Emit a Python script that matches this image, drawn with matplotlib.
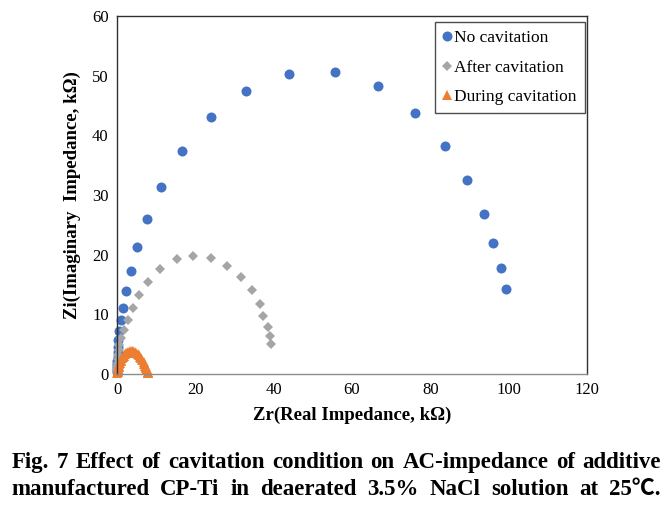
import numpy as np
import matplotlib
matplotlib.use("Agg")
import matplotlib.pyplot as plt

plt.rcParams['font.family'] = ['Liberation Serif', 'Noto Sans CJK KR', 'DejaVu Sans']

## data (kOhm)
no_cav_zr = [0.02, 0.03, 0.04, 0.06, 0.09, 0.13, 0.18, 0.25, 0.35, 0.5, 0.94, 1.45, 2.3, 3.5,
             5.2, 7.6, 11.2, 16.5, 23.9, 32.9, 43.8, 55.6, 66.6, 76.2, 83.8, 89.4, 93.6,
             96.1, 98.1, 99.2]
no_cav_zi = [0.4, 0.7, 1.1, 1.6, 2.2, 2.9, 3.7, 4.6, 5.7, 7.2, 9.0, 11.1, 13.9, 17.2,
             21.3, 26.0, 31.4, 37.4, 43.0, 47.5, 50.3, 50.6, 48.2, 43.8, 38.2, 32.5, 26.8,
             22.0, 17.8, 14.2]

after_zr = [0.05, 0.07, 0.1, 0.15, 0.2, 0.3, 0.4, 0.6, 1.1, 1.9, 2.9, 4.0, 5.7, 8.0, 11.1,
            15.2, 19.5, 23.9, 28.2, 31.6, 34.4, 36.4, 37.4, 38.5, 39.1, 39.3]
after_zi = [0.5, 0.9, 1.4, 1.9, 2.5, 3.2, 4.0, 4.9, 6.0, 7.3, 9.0, 11.0, 13.2, 15.4, 17.6,
            19.2, 19.8, 19.5, 18.1, 16.3, 14.0, 11.8, 9.8, 7.9, 6.4, 5.1]

during_zr = [0.1, 0.15, 0.2, 0.3, 0.4, 0.5, 0.6, 0.7, 0.9, 1.1, 1.3, 1.5, 1.7, 2.0, 2.3, 2.6,
             2.9, 3.3, 3.7, 4.1, 4.5, 4.9, 5.3, 5.6, 5.9, 6.2, 6.5, 6.8, 7.0, 7.2, 7.4,
             7.5, 7.6, 7.7, 7.8, 7.9, 7.9]
during_zi = [0.1, 0.3, 0.5, 0.8, 1.1, 1.4, 1.6, 1.8, 2.1, 2.4, 2.7, 2.9, 3.1, 3.3, 3.5, 3.6,
             3.7, 3.8, 3.8, 3.8, 3.7, 3.6, 3.4, 3.2, 2.9, 2.6, 2.3, 2.0, 1.7, 1.4, 1.2,
             1.0, 0.8, 0.6, 0.4, 0.2, 0.1]

caption1 = "Fig. 7 Effect of cavitation condition on AC-impedance of additive"
caption2 = "manufactured CP-Ti in deaerated 3.5% NaCl solution at 25\u2103."

fig = plt.figure(figsize=(6.71, 5.05), dpi=100)
ax = fig.add_axes([0.1744, 0.2594, 0.7004, 0.7089])

ax.plot(no_cav_zr, no_cav_zi, 'o', color='#4472C4', ms=7.2, mew=0, clip_on=False,
        label='No cavitation')
ax.plot(after_zr, after_zi, 'D', color='#A5A5A5', ms=5.0, mew=0, clip_on=False,
        label='After cavitation')
ax.plot(during_zr, during_zi, '^', color='#ED7D31', ms=7.4, mew=0, clip_on=False,
        label='During cavitation')

ax.set_xlim(0, 120)
ax.set_ylim(0, 60)
ax.set_xticks(np.arange(0, 121, 20))
ax.set_yticks(np.arange(0, 61, 10))
ax.tick_params(length=0, labelsize=12, pad=6)
for s in ['left', 'top', 'right']:
    ax.spines[s].set_color('#303030')
ax.spines['bottom'].set_color('#8c8c8c')
for s in ax.spines.values():
    s.set_linewidth(1.0)

ax.set_xlabel('Zr(Real Impedance, k\u03a9)', fontsize=13.5, fontweight='bold', labelpad=6)
ax.set_ylabel('Zi(Imaginary  Impedance, k\u03a9)', fontsize=13.5, fontweight='bold', labelpad=8)

leg = ax.legend(loc='upper right', fontsize=12.5, frameon=True, fancybox=False,
                bbox_to_anchor=(0.995, 0.982), borderaxespad=0.0,
                handlelength=0.5, handletextpad=0.15,
                labelspacing=0.75, borderpad=0.45, markerscale=1.0)
leg.get_frame().set_edgecolor('#202020')
leg.get_frame().set_linewidth(1.0)

## justified caption, word by word
def justify(text, y, x0, x1, size):
    r = fig.canvas.get_renderer()
    words = text.split(' ')
    while True:
        ts = [fig.text(0, y, w, fontsize=size, fontweight='bold', va='baseline') for w in words]
        widths = [t.get_window_extent(r).width / fig.bbox.width for t in ts]
        gap = (x1 - x0 - sum(widths)) / (len(words) - 1)
        if gap * fig.bbox.width > size * 0.2 or size < 10:
            break
        for t in ts:
            t.remove()
        size -= 0.25
    x = x0
    for t, w in zip(ts, widths):
        t.set_x(x)
        x += w + gap

justify(caption1, 0.073, 0.017, 0.985, 16.5)
justify(caption2, 0.020, 0.017, 0.985, 16.5)

fig.savefig('out.png', dpi=100)
